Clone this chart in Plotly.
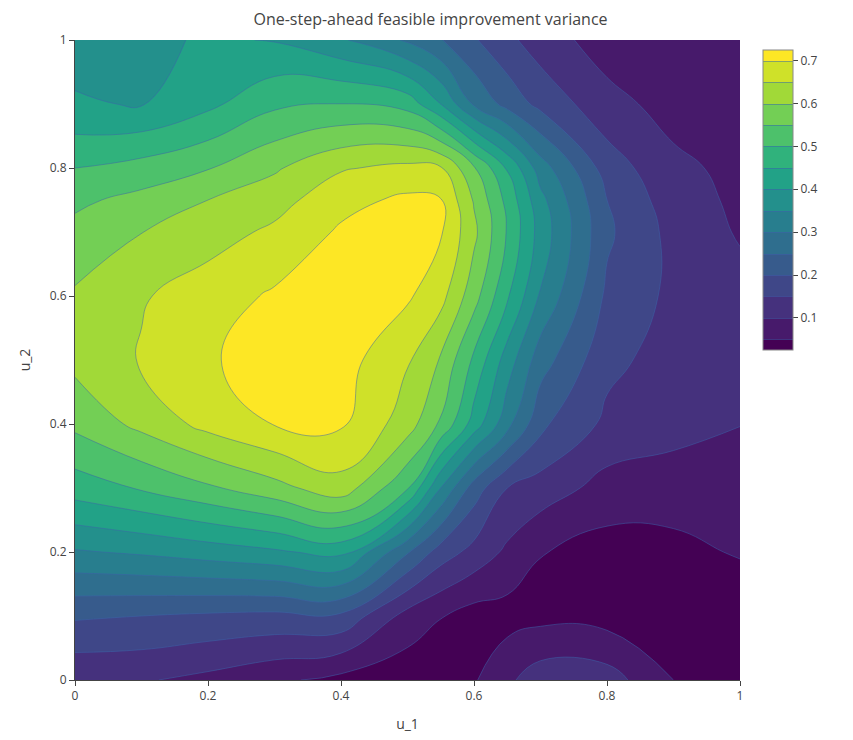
import plotly.graph_objects as go

u1 = [0.0, 0.1, 0.2, 0.3, 0.4, 0.5, 0.55, 0.6, 0.65, 0.7, 0.8, 0.9, 1.0]
u2 = [0.0, 0.1, 0.2, 0.3, 0.4, 0.5, 0.6, 0.7, 0.75, 0.8, 0.9, 1.0]

# variance values, one row per u2 value (bottom to top)
row_u2_000 = [0.107, 0.105, 0.086, 0.060, 0.035, 0.019, 0.020, 0.045, 0.090, 0.128, 0.123, 0.050, 0.014]
row_u2_010 = [0.207, 0.200, 0.192, 0.187, 0.190, 0.080, 0.052, 0.029, 0.030, 0.035, 0.029, 0.014, 0.009]
row_u2_020 = [0.345, 0.357, 0.374, 0.392, 0.417, 0.255, 0.176, 0.133, 0.090, 0.052, 0.029, 0.035, 0.055]
row_u2_030 = [0.474, 0.505, 0.542, 0.583, 0.630, 0.505, 0.350, 0.226, 0.150, 0.128, 0.081, 0.076, 0.076]
row_u2_040 = [0.562, 0.614, 0.666, 0.702, 0.707, 0.624, 0.543, 0.428, 0.317, 0.212, 0.138, 0.117, 0.101]
row_u2_050 = [0.614, 0.655, 0.695, 0.720, 0.722, 0.655, 0.595, 0.490, 0.377, 0.273, 0.164, 0.128, 0.117]
row_u2_060 = [0.607, 0.645, 0.676, 0.707, 0.723, 0.707, 0.667, 0.570, 0.457, 0.345, 0.190, 0.138, 0.117]
row_u2_070 = [0.564, 0.599, 0.628, 0.660, 0.707, 0.712, 0.705, 0.612, 0.496, 0.379, 0.209, 0.134, 0.095]
row_u2_075 = [0.540, 0.565, 0.600, 0.630, 0.684, 0.710, 0.703, 0.595, 0.485, 0.365, 0.200, 0.123, 0.090]
row_u2_080 = [0.500, 0.519, 0.547, 0.593, 0.645, 0.663, 0.655, 0.555, 0.445, 0.325, 0.176, 0.112, 0.086]
row_u2_090 = [0.405, 0.397, 0.438, 0.490, 0.502, 0.480, 0.400, 0.293, 0.233, 0.185, 0.117, 0.081, 0.071]
row_u2_100 = [0.381, 0.386, 0.407, 0.397, 0.357, 0.293, 0.253, 0.205, 0.162, 0.125, 0.076, 0.066, 0.060]

z = [row_u2_000, row_u2_010, row_u2_020, row_u2_030, row_u2_040, row_u2_050,
     row_u2_060, row_u2_070, row_u2_075, row_u2_080, row_u2_090, row_u2_100]

fig = go.Figure(go.Contour(
    x=u1, y=u2, z=z,
    colorscale="Viridis",
    contours=dict(start=0.05, end=0.7, size=0.05, coloring="fill"),
    line=dict(width=1, smoothing=1.3, color="rgba(60,100,170,0.5)"),
    colorbar=dict(len=0.5, y=1, yanchor="top", thickness=30,
                  outlinewidth=1, outlinecolor="#888",
                  ticks="outside", tickfont=dict(size=12, color="#444")),
))

fig.update_layout(
    width=845, height=732,
    margin=dict(l=67, r=113, t=32, b=60),
    title=dict(text="One-step-ahead feasible improvement variance", x=0.5, xanchor="center",
               yref="container", y=0.984, yanchor="middle",
               font=dict(size=16, color="#444")),
    plot_bgcolor="white", paper_bgcolor="white",
    font=dict(family="Open Sans, Arial, sans-serif", color="#444"),
    xaxis=dict(title=dict(text="u_1"), range=[0, 1], showgrid=False, zeroline=False,
               showline=True, linecolor="#444", ticks="outside", tickcolor="#444",
               dtick=0.2),
    yaxis=dict(title=dict(text="u_2"), range=[0, 1], showgrid=False, zeroline=False,
               showline=True, linecolor="#444", ticks="outside", tickcolor="#444",
               dtick=0.2),
)

fig.write_html("out.html")
